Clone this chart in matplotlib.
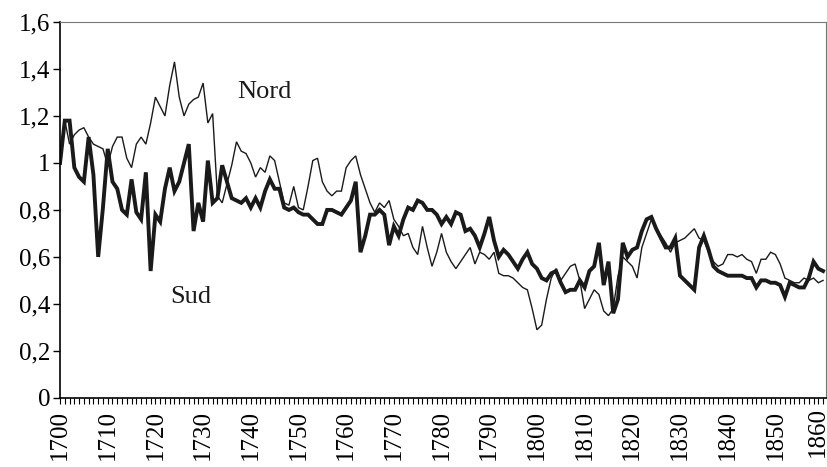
import matplotlib
matplotlib.use("Agg")
import matplotlib.pyplot as plt
import matplotlib.transforms as mtransforms
from matplotlib.ticker import MultipleLocator, FuncFormatter
import numpy as np

years = list(range(1700, 1861))

nord = [
    1.00, 1.18, 1.08, 1.12, 1.14, 1.15, 1.11, 1.08, 1.07, 1.06,  # 1700-1709
    0.99, 1.07, 1.11, 1.11, 1.02, 0.98, 1.08, 1.11, 1.08, 1.17,  # 1710-1719
    1.28, 1.24, 1.20, 1.33, 1.43, 1.28, 1.20, 1.25, 1.27, 1.28,  # 1720-1729
    1.34, 1.17, 1.21, 0.86, 0.83, 0.91, 0.99, 1.09, 1.05, 1.04,  # 1730-1739
    1.00, 0.94, 0.98, 0.96, 1.03, 1.01, 0.92, 0.83, 0.82, 0.90,  # 1740-1749
    0.81, 0.80, 0.90, 1.01, 1.02, 0.92, 0.88, 0.86, 0.88, 0.88,  # 1750-1759
    0.98, 1.01, 1.03, 0.95, 0.89, 0.83, 0.79, 0.83, 0.81, 0.84,  # 1760-1769
    0.76, 0.73, 0.69, 0.70, 0.64, 0.61, 0.73, 0.64, 0.56, 0.62,  # 1770-1779
    0.70, 0.62, 0.58, 0.55, 0.58, 0.61, 0.64, 0.57, 0.62, 0.61,  # 1780-1789
    0.59, 0.62, 0.53, 0.52, 0.52, 0.51, 0.49, 0.47, 0.46, 0.38,  # 1790-1799
    0.29, 0.31, 0.42, 0.51, 0.55, 0.50, 0.53, 0.56, 0.57, 0.50,  # 1800-1809
    0.38, 0.42, 0.46, 0.44, 0.37, 0.35, 0.38, 0.52, 0.60, 0.58,  # 1810-1819
    0.56, 0.51, 0.64, 0.70, 0.76, 0.72, 0.69, 0.66, 0.62, 0.66,  # 1820-1829
    0.67, 0.68, 0.70, 0.72, 0.68, 0.67, 0.62, 0.58, 0.56, 0.57,  # 1830-1839
    0.61, 0.61, 0.60, 0.61, 0.59, 0.58, 0.53, 0.59, 0.59, 0.62,  # 1840-1849
    0.61, 0.57, 0.51, 0.50, 0.49, 0.49, 0.51, 0.50, 0.51, 0.49,  # 1850-1859
    0.50,                                                        # 1860
]

sud = [
    1.00, 1.18, 1.18, 0.98, 0.94, 0.92, 1.11, 0.95, 0.60, 0.81,  # 1700-1709
    1.06, 0.92, 0.89, 0.80, 0.78, 0.93, 0.79, 0.76, 0.96, 0.54,  # 1710-1719
    0.78, 0.75, 0.89, 0.98, 0.88, 0.92, 1.00, 1.08, 0.71, 0.83,  # 1720-1729
    0.75, 1.01, 0.83, 0.85, 0.99, 0.92, 0.85, 0.84, 0.83, 0.85,  # 1730-1739
    0.81, 0.85, 0.81, 0.88, 0.93, 0.89, 0.89, 0.81, 0.80, 0.81,  # 1740-1749
    0.79, 0.78, 0.78, 0.76, 0.74, 0.74, 0.80, 0.80, 0.79, 0.78,  # 1750-1759
    0.81, 0.84, 0.92, 0.62, 0.69, 0.78, 0.78, 0.80, 0.78, 0.65,  # 1760-1769
    0.73, 0.69, 0.76, 0.81, 0.80, 0.84, 0.83, 0.80, 0.80, 0.78,  # 1770-1779
    0.74, 0.77, 0.74, 0.79, 0.78, 0.71, 0.72, 0.69, 0.64, 0.70,  # 1780-1789
    0.77, 0.67, 0.60, 0.63, 0.61, 0.58, 0.55, 0.59, 0.62, 0.57,  # 1790-1799
    0.55, 0.51, 0.50, 0.53, 0.54, 0.49, 0.45, 0.46, 0.46, 0.50,  # 1800-1809
    0.47, 0.54, 0.56, 0.66, 0.48, 0.58, 0.36, 0.42, 0.66, 0.60,  # 1810-1819
    0.63, 0.64, 0.71, 0.76, 0.77, 0.72, 0.68, 0.64, 0.64, 0.68,  # 1820-1829
    0.52, 0.50, 0.48, 0.46, 0.64, 0.69, 0.63, 0.56, 0.54, 0.53,  # 1830-1839
    0.52, 0.52, 0.52, 0.52, 0.51, 0.51, 0.47, 0.50, 0.50, 0.49,  # 1840-1849
    0.49, 0.48, 0.43, 0.49, 0.48, 0.47, 0.47, 0.51, 0.58, 0.55,  # 1850-1859
    0.54,                                                        # 1860
]

y_ticks = [0, 0.2, 0.4, 0.6, 0.8, 1.0, 1.2, 1.4, 1.6]
x_labels = list(range(1700, 1861, 10))

plt.rcParams['font.family'] = ['Liberation Serif', 'DejaVu Serif']

fig = plt.figure(figsize=(8.28, 4.67), dpi=100)
ax = fig.add_axes([0.0725, 0.148, 0.925, 0.805])

col = '#1a1a1a'
ax.plot(years, nord, color=col, lw=1.0, solid_joinstyle='miter')
ax.plot(years, sud, color=col, lw=2.8, solid_joinstyle='miter')

ax.set_xlim(1700, 1860.6)
ax.set_ylim(0, 1.6)

ax.set_yticks(y_ticks)
ax.yaxis.set_major_formatter(FuncFormatter(lambda v, p: ('%g' % round(v, 1)).replace('.', ',')))
ax.set_xticks(x_labels)
# last label is drawn separately, nudged left so it stays inside the figure
tick_text = [str(v) for v in x_labels[:-1]] + ['']
ax.set_xticklabels(tick_text, rotation=90)
ax.xaxis.set_minor_locator(MultipleLocator(1))

ax.tick_params(axis='y', direction='out', length=5, width=1, labelsize=18, pad=2, colors='black')
ax.tick_params(axis='x', which='both', direction='out', length=4, width=0.8, labelsize=18, pad=5)

offset = mtransforms.ScaledTranslation(-5 / 100, -9 / 100, fig.dpi_scale_trans)
ax.text(x_labels[-1], 0, str(x_labels[-1]), rotation=90, fontsize=18,
        ha='center', va='top', transform=ax.get_xaxis_transform() + offset, color='black')

for s in ['left', 'bottom']:
    ax.spines[s].set_color('black')
    ax.spines[s].set_linewidth(1.2)
for s in ['top', 'right']:
    ax.spines[s].set_color('#777777')
    ax.spines[s].set_linewidth(0.8)

ax.text(1742.8, 1.30, 'Nord', fontsize=19, ha='center', va='center', color=col)
ax.text(1727.5, 0.43, 'Sud', fontsize=19, ha='center', va='center', color=col)

fig.savefig('out.png', dpi=100)
